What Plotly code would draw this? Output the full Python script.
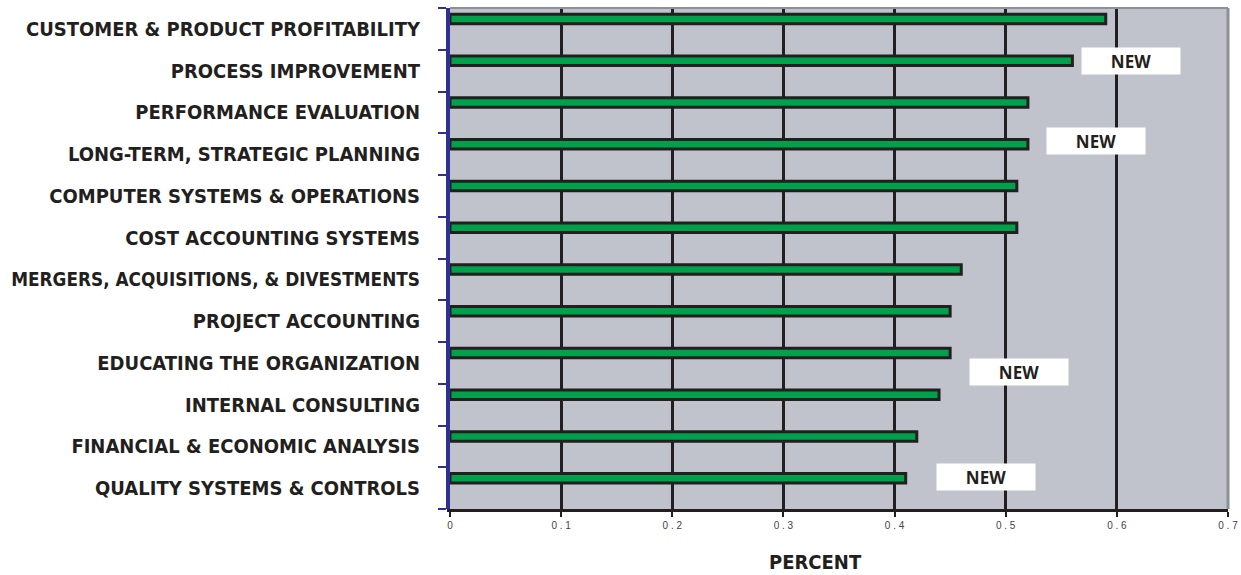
import plotly.graph_objects as go

# Survey results: share of respondents naming each area
categories = [
    "CUSTOMER & PRODUCT PROFITABILITY",
    "PROCESS IMPROVEMENT",
    "PERFORMANCE EVALUATION",
    "LONG-TERM, STRATEGIC PLANNING",
    "COMPUTER SYSTEMS & OPERATIONS",
    "COST ACCOUNTING SYSTEMS",
    "MERGERS, ACQUISITIONS, & DIVESTMENTS",
    "PROJECT ACCOUNTING",
    "EDUCATING THE ORGANIZATION",
    "INTERNAL CONSULTING",
    "FINANCIAL & ECONOMIC ANALYSIS",
    "QUALITY SYSTEMS & CONTROLS",
]
percent = [0.59, 0.56, 0.52, 0.52, 0.51, 0.51, 0.46, 0.45, 0.45, 0.44, 0.42, 0.41]

x_ticks = [0, 0.1, 0.2, 0.3, 0.4, 0.5, 0.6, 0.7]
x_tick_text = ["0", "0 . 1", "0 . 2", "0 . 3", "0 . 4", "0 . 5", "0 . 6", "0 . 7"]

# "NEW" call-outs: (x position, category-index position)
new_x = [0.613, 0.581, 0.512, 0.482]
new_y = [0.77, 2.69, 8.21, 10.73]

DARK = "#231F20"
GREEN = "#00A14B"
BLUE = "#2E3192"
LABEL_FONT = "DejaVu Sans Condensed"

n = len(categories)
positions = list(range(n))
boundaries = [i - 0.5 for i in range(n + 1)]


def label(text):
    # the longest label is set a touch smaller so it fits the margin
    if len(text) > 33:
        return f'<b><span style="font-size:18.8px">{text}</span></b>'
    return f"<b>{text}</b>"


fig = go.Figure()
fig.add_trace(go.Bar(
    x=percent,
    y=positions,
    orientation="h",
    width=0.23,
    offset=-0.35,
    marker=dict(color=GREEN, line=dict(color=DARK, width=3)),
    hoverinfo="x",
))
# invisible companion trace so the boundary-tick axis is rendered
fig.add_trace(go.Scatter(
    x=percent, y=positions, yaxis="y2",
    mode="none", hoverinfo="skip", showlegend=False,
))

for nx, ny in zip(new_x, new_y):
    fig.add_annotation(
        x=nx, y=ny, xref="x", yref="y",
        text="<b>NEW</b>", showarrow=False,
        bgcolor="white", width=96, height=24,
        font=dict(family="Open Sans", size=17, color=DARK),
    )

# axis caption under the value axis
fig.add_annotation(
    x=0.47, y=-0.106, xref="paper", yref="paper",
    xanchor="center", yanchor="middle",
    text="<b>PERCENT</b>", showarrow=False,
    font=dict(family=LABEL_FONT, size=20, color=DARK),
)

# gray frame on top and right of the plot area
fig.add_shape(type="line", xref="paper", yref="paper", x0=0, x1=1, y0=1, y1=1,
              line=dict(color="#8C9197", width=2), layer="above")
fig.add_shape(type="line", xref="paper", yref="paper", x0=1, x1=1, y0=0, y1=1,
              line=dict(color="#8C9197", width=3), layer="above")

fig.update_layout(
    width=1241, height=575,
    margin=dict(l=450, r=13, t=8, b=66),
    paper_bgcolor="white",
    plot_bgcolor="#C0C3CB",
    showlegend=False,
    xaxis=dict(
        range=[0, 0.7],
        automargin=False,
        tickvals=x_ticks, ticktext=x_tick_text,
        showgrid=True, gridcolor=DARK, gridwidth=3,
        showline=True, linecolor=DARK, linewidth=3,
        ticks="outside", ticklen=5, tickwidth=2, tickcolor=DARK,
        tickfont=dict(family="Liberation Sans", size=10, color="#444"),
        zeroline=False,
    ),
    yaxis=dict(
        tickmode="array",
        automargin=False,
        tickvals=positions,
        ticktext=[label(c) for c in categories],
        range=[n - 0.5, -0.5],
        showgrid=False, zeroline=False,
        showline=True, linecolor=BLUE, linewidth=3,
        ticks="",
        tickfont=dict(family=LABEL_FONT, size=20, color=DARK),
        ticklabelstandoff=23,
    ),
    # tick marks between the categories
    yaxis2=dict(
        overlaying="y", anchor="x", side="left",
        automargin=False,
        range=[n - 0.5, -0.5],
        tickmode="array", tickvals=boundaries,
        showticklabels=False, showgrid=False, zeroline=False,
        showline=True, linecolor=BLUE, linewidth=4,
        ticks="outside", ticklen=8, tickwidth=2, tickcolor=BLUE,
    ),
)

fig.write_html("out.html")
